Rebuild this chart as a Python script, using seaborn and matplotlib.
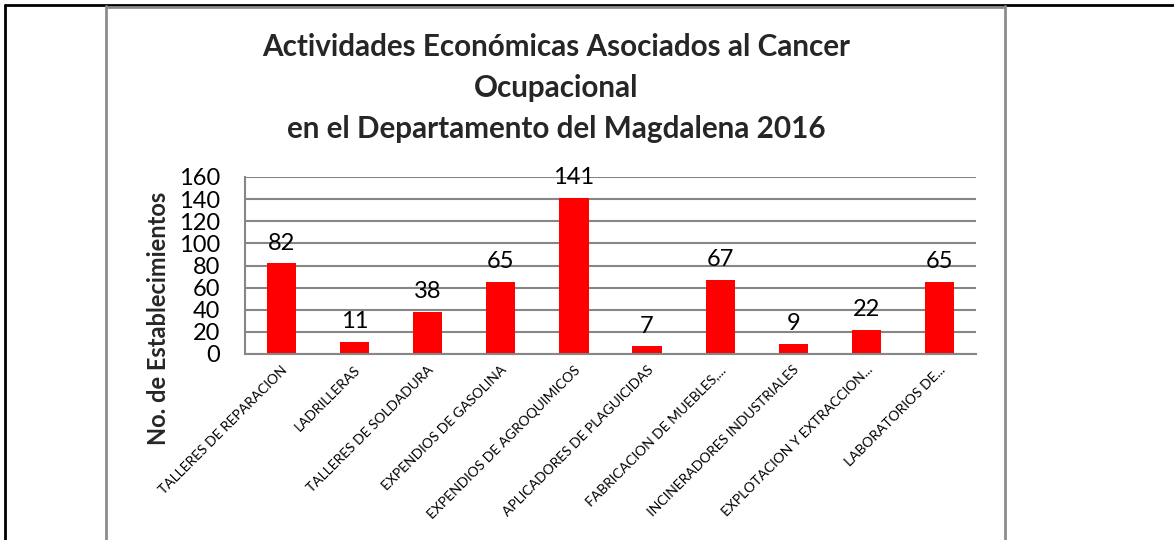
import matplotlib
matplotlib.use("Agg")
import matplotlib.pyplot as plt
import seaborn as sns
import pandas as pd
from matplotlib.lines import Line2D
from matplotlib.transforms import ScaledTranslation

# Data
actividades = [
    "TALLERES DE REPARACION",
    "LADRILLERAS",
    "TALLERES DE SOLDADURA",
    "EXPENDIOS DE GASOLINA",
    "EXPENDIOS DE AGROQUIMICOS",
    "APLICADORES DE PLAGUICIDAS",
    "FABRICACION DE MUEBLES,...",
    "INCINERADORES INDUSTRIALES",
    "EXPLOTACION Y EXTRACCION...",
    "LABORATORIOS DE...",
]
establecimientos = [82, 11, 38, 65, 141, 7, 67, 9, 22, 65]
y_ticks = [0, 20, 40, 60, 80, 100, 120, 140, 160]

titulo = ("Actividades Económicas Asociados al Cancer\nOcupacional\n"
          "en el Departamento del Magdalena 2016")
y_label = "No. de Establecimientos"

sns.set_theme(style="white")
plt.rcParams["font.family"] = ["Lato", "DejaVu Sans"]

W, H = 1174, 540
fig = plt.figure(figsize=(W / 100, H / 100), dpi=100)
ax = fig.add_axes([245 / W, 1 - 354 / H, (976 - 245) / W, (354 - 177) / H])

df = pd.DataFrame({"actividad": actividades, "n": establecimientos})
sns.barplot(data=df, x="actividad", y="n", color="#ff0000", saturation=1,
            width=0.4, edgecolor="none", ax=ax)

ax.set_ylim(0, 160)
ax.set_yticks(y_ticks)
ax.yaxis.grid(True, color="#868686", linewidth=1.5)
ax.set_axisbelow(True)
for side in ["top", "right"]:
    ax.spines[side].set_visible(False)
for side in ["left", "bottom"]:
    ax.spines[side].set_color("#868686")
    ax.spines[side].set_linewidth(1.5)

ax.tick_params(axis="y", length=0, pad=18, labelsize=17, labelcolor="black")
ax.tick_params(axis="x", length=0, pad=10, labelsize=10, labelcolor="black")
shift = ScaledTranslation(4 / 100, 0, fig.dpi_scale_trans)
for lbl in ax.get_xticklabels():
    lbl.set_rotation(45)
    lbl.set_ha("right")
    lbl.set_va("center")
    lbl.set_rotation_mode("anchor")
    lbl.set_transform(lbl.get_transform() + shift)

ax.bar_label(ax.containers[0], labels=[str(v) for v in establecimientos],
             padding=7, fontsize=17, color="black")

ax.set_xlabel("")
ax.set_ylabel("")
fig.text(158 / W, 1 - 318 / H, y_label, rotation=90, ha="center", va="center",
         fontsize=17, fontweight="bold")
fig.text(556 / W, 1 - 88 / H, titulo, ha="center", va="center",
         fontsize=21.3, fontweight="bold", linespacing=1.55)

# page / chart frames
fig.add_artist(Line2D([5 / W, 5 / W], [0, 1 - 5 / H], color="black", lw=2))
fig.add_artist(Line2D([5 / W, 1], [1 - 5 / H, 1 - 5 / H], color="black", lw=2))
gray = "#8c8c8c"
fig.add_artist(Line2D([106 / W, 106 / W], [0, 1 - 6 / H], color=gray, lw=2))
fig.add_artist(Line2D([1005 / W, 1005 / W], [0, 1 - 6 / H], color=gray, lw=2))
fig.add_artist(Line2D([106 / W, 1005 / W], [1 - 6.5 / H, 1 - 6.5 / H], color=gray, lw=2))

fig.savefig("out.png", dpi=100)
